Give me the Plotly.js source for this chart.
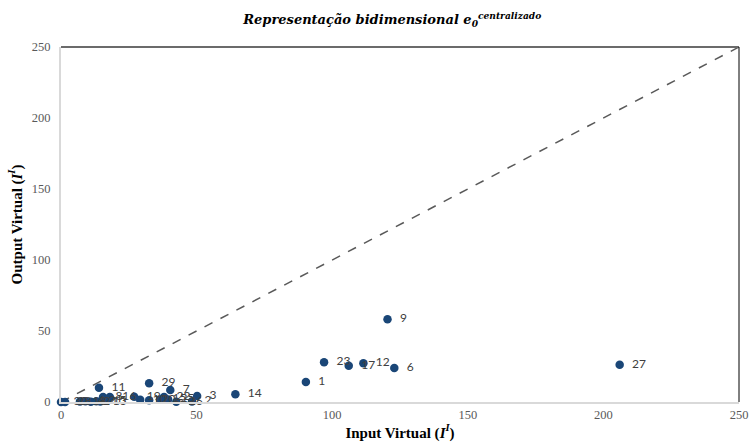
<!DOCTYPE html>
<html>
<head>
<meta charset="utf-8">
<script src="https://cdn.plot.ly/plotly-3.0.1.min.js"></script>
<style>html,body{margin:0;padding:0;background:#fff;}#chart{width:750px;height:443px;}</style>
</head>
<body>
<div id="chart"></div>
<script>
// DMU labels and their virtual input / output values
const labels  = ["1","2","3","4","5","6","7","8","9","10","11","12","13","14","15","16","17","18","19","20","21","22","23","24","25","26","27","28","29","30"];
const inputV  = [90.3,48.3,50.2,9.0,17.0,122.9,40.3,15.5,120.4,29.2,14.0,111.5,14.5,64.3,36.5,18.0,106.1,7.0,27.0,32.5,13.0,38.0,97.0,11.0,39.5,42.5,206.0,1.5,32.5,0.0];
const outputV = [14.1,0.4,4.2,0.5,1.0,23.9,8.5,3.5,58.2,1.5,10.1,27.3,0.3,5.4,1.8,3.5,25.6,0.3,3.7,1.2,0.5,3.5,28.0,0.2,1.8,0.2,26.3,0.0,13.2,0.0];
// reference diagonal (efficiency frontier)
const diagX = [0,250];
const diagY = [0,250];
const xTicks = [0,50,100,150,200,250];
const yTicks = [0,50,100,150,200,250];

const traces = [
  {x: diagX, y: diagY, mode: "lines", type: "scatter",
   line: {color: "#595959", width: 1.5, dash: "dash"}, hoverinfo: "skip", showlegend: false},
  {x: inputV, y: outputV, text: labels, mode: "markers+text", type: "scatter",
   texttemplate: "  %{text}",
   textposition: "middle right",
   textfont: {family: "Lato, 'Open Sans', sans-serif", size: 12, color: "#404040"},
   marker: {color: "#1a4677", size: 8.5}, cliponaxis: false, showlegend: false}
];

const layout = {
  width: 750, height: 443,
  margin: {l: 61, r: 11, t: 47, b: 41},
  paper_bgcolor: "#ffffff", plot_bgcolor: "#ffffff",
  title: {
    text: "<b><i>Representação bidimensional e<sub>0</sub><sup>centralizado</sup></i></b>",
    font: {family: "'DejaVu Serif', 'Liberation Serif', serif", size: 13, color: "#000"},
    x: 0.523, xanchor: "center", y: 0.955, yanchor: "middle"
  },
  xaxis: {
    range: [0, 250], tickvals: xTicks, ticktext: xTicks.map(String),
    showgrid: false, zeroline: false, showline: true, linecolor: "#d9d9d9", linewidth: 2,
    ticks: "", tickfont: {family: "'Liberation Serif', serif", size: 12.5, color: "#595959"},
    title: {text: "<b>Input Virtual (<i>I<sup>I</sup></i>)</b>",
            font: {family: "'Liberation Serif', serif", size: 15, color: "#000"}, standoff: 6}
  },
  yaxis: {
    range: [0, 250], tickvals: yTicks, ticktext: yTicks.map(String),
    showgrid: false, zeroline: false, showline: true, linecolor: "#d9d9d9", linewidth: 2,
    ticks: "", ticklabelstandoff: 6, tickfont: {family: "'Liberation Serif', serif", size: 12.5, color: "#595959"},
    title: {text: "<b>Output Virtual (<i>I<sup>I</sup></i>)</b>",
            font: {family: "'Liberation Serif', serif", size: 15, color: "#000"}, standoff: 6}
  },
  shapes: [
    {type: "line", xref: "paper", yref: "paper", x0: 0, x1: 1, y0: 1, y1: 1, line: {color: "#6b6b6b", width: 2}},
    {type: "line", xref: "paper", yref: "paper", x0: 1, x1: 1, y0: 0, y1: 1, line: {color: "#000000", width: 1}}
  ]
};

Plotly.newPlot("chart", traces, layout, {displayModeBar: false, staticPlot: true});
</script>
</body>
</html>
